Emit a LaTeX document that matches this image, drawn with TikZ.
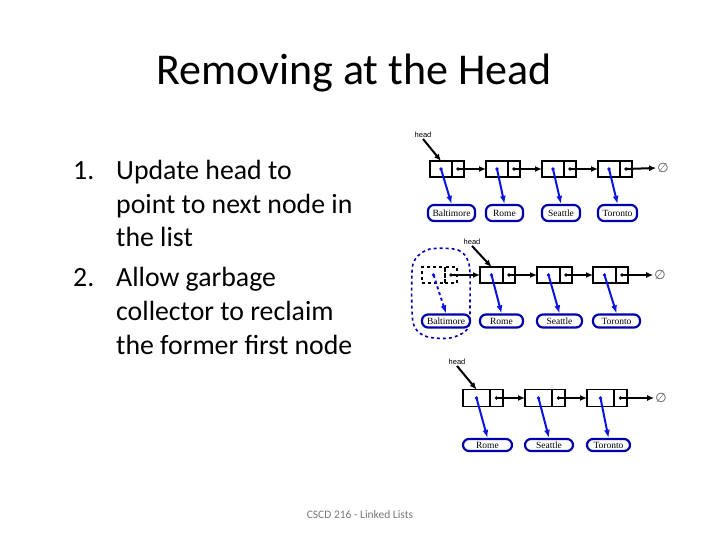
\documentclass[tikz,border=0pt]{standalone}
\usepackage{fontspec}
\setmainfont{Carlito}
\newfontfamily\serifl{Liberation Serif}
\newfontfamily\sansl{Liberation Sans}
\newfontfamily\djv{DejaVu Sans}
\usetikzlibrary{arrows.meta}
\definecolor{arrblue}{RGB}{10,20,225}
\definecolor{lblblue}{RGB}{0,0,170}
\definecolor{footgray}{RGB}{120,120,120}
\definecolor{nullgray}{RGB}{90,90,90}
\begin{document}
\begin{tikzpicture}[x=1pt,y=-1pt,
  cell/.style={draw, line width=1.8pt, inner sep=0pt, outer sep=0pt},
  dcell/.style={cell, dashed},
  lbl/.style={draw=lblblue, line width=2.2pt, rounded corners=6pt, inner sep=0pt,
    font=\serifl\fontsize{9.5}{9.5}\selectfont},
  nxt/.style={-{Latex[length=7pt,width=6pt]}, line width=2pt},
  ptr/.style={arrblue, line width=2pt, -{Latex[length=8pt,width=6pt]}},
  hd/.style={font=\sansl\fontsize{7.5}{7.5}\selectfont, inner sep=1pt},
  nul/.style={font=\djv\fontsize{13}{13}\selectfont, text=nullgray, inner sep=1pt},
  title/.style={font=\fontsize{44}{50}\selectfont, anchor=base},
  body/.style={font=\fontsize{27.8}{34}\selectfont, anchor=base west, inner sep=0pt},
  foot/.style={font=\fontsize{11.5}{13}\selectfont, text=footgray}]
\useasboundingbox (0,0) rectangle (720,540);

% title and text
\node[title] (T) at (354,85) {Removing at the Head};
\node[body] (n1) at (73,180) {1.};
\node[body] (l1) at (116,180) {Update head to};
\node[body] (l2) at (116,214) {point to next node in};
\node[body] (l3) at (116,247) {the list};
\node[body] (n2) at (73,286) {2.};
\node[body] (l4) at (116,286) {Allow garbage};
\node[body] (l5) at (116,320) {collector to reclaim};
\node[body] (l6) at (116,354) {the former first node};
\node[foot] (F) at (360,515) {CSCD 216 - Linked Lists};

% ---------- row 1 ----------
\foreach \n/\x in {A/430,B/486,C/542,D/598} {
  \node[cell, minimum width=22pt, minimum height=16pt] (\n1d) at (\x+11,169) {};
  \node[cell, minimum width=12pt, minimum height=16pt] (\n1n) at (\x+28,169) {};
  \fill (\n1n.center) circle (1.8pt);
  \fill[arrblue] (\n1d.center) circle (1.8pt);
}
\node[nul] (N1) at (663,168) {∅};
\node[lbl, minimum width=47pt, minimum height=16pt] (L1a) at (451.5,213) {Baltimore};
\node[lbl, minimum width=37pt, minimum height=16pt] (L1b) at (504.5,213) {Rome};
\node[lbl, minimum width=38pt, minimum height=16pt] (L1c) at (561,213) {Seattle};
\node[lbl, minimum width=39pt, minimum height=16pt] (L1d) at (617.5,213) {Toronto};
\node[hd] (H1) at (423,135) {head};
\draw[nxt] (H1.south) -- (A1d.north);
\draw[nxt] (A1n.center) -- (B1d.west);
\draw[nxt] (B1n.center) -- (C1d.west);
\draw[nxt] (C1n.center) -- (D1d.west);
\draw[nxt] (D1n.center) -- (N1.west);
\draw[ptr] (A1d.center) -- (L1a.north);
\draw[ptr] (B1d.center) -- (L1b.north);
\draw[ptr] (C1d.center) -- (L1c.north);
\draw[ptr] (D1d.center) -- (L1d.north);

% ---------- row 2 ----------
\node[dcell, minimum width=23pt, minimum height=16pt] (A2d) at (433.5,275) {};
\node[dcell, minimum width=12pt, minimum height=16pt] (A2n) at (451,275) {};
\fill (A2n.center) circle (1.8pt);
\fill[arrblue] (A2d.center) circle (1.8pt);
\foreach \n/\x in {B/480,C/537,D/593} {
  \node[cell, minimum width=23pt, minimum height=16pt] (\n2d) at (\x+11.5,275) {};
  \node[cell, minimum width=12pt, minimum height=16pt] (\n2n) at (\x+29,275) {};
  \fill (\n2n.center) circle (1.8pt);
  \fill[arrblue] (\n2d.center) circle (1.8pt);
}
\node[nul] (N2) at (660,275) {∅};
\node[lbl, minimum width=48pt, minimum height=13pt] (L2a) at (446,321) {Baltimore};
\node[lbl, minimum width=43pt, minimum height=13pt] (L2b) at (501.5,321) {Rome};
\node[lbl, minimum width=45pt, minimum height=13pt] (L2c) at (559.5,321) {Seattle};
\node[lbl, minimum width=47pt, minimum height=13pt] (L2d) at (616.5,321) {Toronto};
\node[hd] (H2) at (472,242) {head};
\draw[nxt] (H2.south) -- (B2d.north);
\draw[nxt] (A2n.center) -- (B2d.west);
\draw[nxt] (B2n.center) -- (C2d.west);
\draw[nxt] (C2n.center) -- (D2d.west);
\draw[nxt] (D2n.center) -- (N2.west);
\draw[ptr, dashed] (A2d.center) -- (L2a.north);
\draw[ptr] (B2d.center) -- (L2b.north);
\draw[ptr] (C2d.center) -- (L2c.north);
\draw[ptr] (D2d.center) -- (L2d.north);
\draw[lblblue, dashed, line width=1.6pt] plot[smooth cycle] coordinates
  {(430,249) (458,250) (469,264) (470,300) (468,328) (450,338) (425,336) (413,322) (412,272) (416,258)};

% ---------- row 3 ----------
\foreach \n/\x in {A/463,B/525,C/587} {
  \node[cell, minimum width=27pt, minimum height=17pt] (\n3d) at (\x+13.5,398) {};
  \node[cell, minimum width=13pt, minimum height=17pt] (\n3n) at (\x+33.5,398) {};
  \fill (\n3n.center) circle (1.9pt);
  \fill[arrblue] (\n3d.center) circle (1.9pt);
}
\node[nul] (N3) at (661,398) {∅};
\node[lbl, minimum width=49pt, minimum height=12pt] (L3a) at (487.5,445) {Rome};
\node[lbl, minimum width=48pt, minimum height=12pt] (L3b) at (549,445) {Seattle};
\node[lbl, minimum width=43pt, minimum height=12pt] (L3c) at (608.5,445) {Toronto};
\node[hd] (H3) at (457,362) {head};
\draw[nxt] (H3.south) -- (A3d.north);
\draw[nxt] (A3n.center) -- (B3d.west);
\draw[nxt] (B3n.center) -- (C3d.west);
\draw[nxt] (C3n.center) -- (N3.west);
\draw[ptr] (A3d.center) -- (L3a.north);
\draw[ptr] (B3d.center) -- (L3b.north);
\draw[ptr] (C3d.center) -- (L3c.north);
\end{tikzpicture}
\end{document}
